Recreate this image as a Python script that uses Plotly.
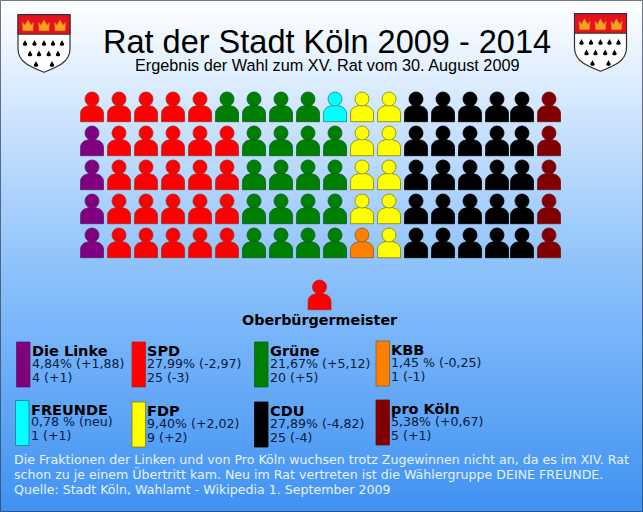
import plotly.graph_objects as go

# ---- data ----
parties = ["Die Linke", "SPD", "Grüne", "KBB", "FREUNDE", "FDP", "CDU", "pro Köln"]
results = ["4,84% (+1,88)", "27,99% (-2,97)", "21,67% (+5,12)", "1,45 % (-0,25)",
           "0,78 % (neu)", "9,40% (+2,02)", "27,89% (-4,82)", "5,38% (+0,67)"]
seats = ["4 (+1)", "25 (-3)", "20 (+5)", "1 (-1)", "1 (+1)", "9 (+2)", "25 (-4)", "5 (+1)"]
colors = {"Die Linke": "#800080", "SPD": "#ff0000", "Grüne": "#008000", "KBB": "#ff8000",
          "FREUNDE": "#00ffff", "FDP": "#ffff00", "CDU": "#000000", "pro Köln": "#800000"}
edges = {"Die Linke": "#5a1a6a", "SPD": "#a82a20", "Grüne": "#0a5a20", "KBB": "#806030",
         "FREUNDE": "#208080", "FDP": "#808000", "CDU": "#000000", "pro Köln": "#701010"}
L, S, G, K, F, D, C, P = parties
seat_rows = [
    [S, S, S, S, S, G, G, G, G, F, D, D, C, C, C, C, C, P],
    [L, S, S, S, S, S, G, G, G, G, D, D, C, C, C, C, C, P],
    [L, S, S, S, S, S, G, G, G, G, D, D, C, C, C, C, C, P],
    [L, S, S, S, S, S, G, G, G, G, D, D, C, C, C, C, C, P],
    [L, S, S, S, S, S, G, G, G, G, K, D, C, C, C, C, C, P],
]
column_x = [92, 119, 146, 173, 200, 227, 254, 281, 308, 335, 362, 389, 416, 443, 470, 497, 522, 549]
row_y = [99, 133, 167, 201, 235]
mayor_party = S
title = "Rat der Stadt Köln 2009 - 2014"
subtitle = "Ergebnis der Wahl zum XV. Rat vom 30. August 2009"
mayor_label = "Oberbürgermeister"
note_lines = [
    "Die Fraktionen der Linken und von Pro Köln wuchsen trotz Zugewinnen nicht an, da es im XIV. Rat",
    "schon zu je einem Übertritt kam. Neu im Rat vertreten ist die Wählergruppe DEINE FREUNDE.",
    "Quelle: Stadt Köln, Wahlamt - Wikipedia 1. September 2009",
]

# ---- layout helpers ----
W, H = 643, 512
legend_boxes = [(16.5, 342), (132, 342), (254.5, 342), (376, 341),
                (15.5, 400.5), (132, 402), (254.5, 402), (376, 400)]
fig = go.Figure()

# background gradient
fig.add_trace(go.Heatmap(
    x=[0, W], y=[0, H], z=[[0, 0], [1, 1]], zsmooth="best", showscale=False, hoverinfo="skip",
    colorscale=[[0, "#ffffff"], [0.53, "#8cc1fb"], [1, "#3f92f2"]], zmin=0, zmax=1))

def bez(p0, p1, p2, p3, n=8):
    out = []
    for i in range(n + 1):
        t = i / n
        a, b, c, d = (1 - t) ** 3, 3 * t * (1 - t) ** 2, 3 * t * t * (1 - t), t ** 3
        out.append((a * p0[0] + b * p1[0] + c * p2[0] + d * p3[0],
                    a * p0[1] + b * p1[1] + c * p2[1] + d * p3[1]))
    return out

body_tpl = ([(-11.5, 22.7), (-11.5, 14.5)]
            + bez((-11.5, 14.5), (-11.5, 9.5), (-7, 7), (-3, 6.5))
            + bez((3, 6.5), (7, 7), (11.5, 9.5), (11.5, 14.5))
            + [(11.5, 22.7), (-11.5, 22.7)])

pos = {p: [] for p in parties}
for r, row in enumerate(seat_rows):
    for c, party in enumerate(row):
        pos[party].append((column_x[c], row_y[r]))
pos[mayor_party].append((319.5, 287))

for p in parties:
    xs, ys = [], []
    for cx, cy in pos[p]:
        for dx, dy in body_tpl:
            xs.append(cx + dx)
            ys.append(cy + dy)
        xs.append(None)
        ys.append(None)
    fig.add_trace(go.Scatter(x=xs, y=ys, mode="lines", fill="toself", fillcolor=colors[p],
                             line=dict(color=edges[p], width=0.8), hoverinfo="skip", showlegend=False))
    fig.add_trace(go.Scatter(x=[q[0] for q in pos[p]], y=[q[1] for q in pos[p]], mode="markers",
                             marker=dict(size=14, color=colors[p], line=dict(color=edges[p], width=0.8)),
                             hoverinfo="skip", showlegend=False))

# coats of arms
def shield(ox, oy):
    sh = dict(xref="x", yref="y", layer="above")
    outline = (f"M {ox} {oy} L {ox+52} {oy} L {ox+52} {oy+34} "
               f"C {ox+52} {oy+48} {ox+38} {oy+53} {ox+26} {oy+57.5} "
               f"C {ox+14} {oy+53} {ox} {oy+48} {ox} {oy+34} Z")
    fig.add_shape(type="path", path=outline, fillcolor="#ffffff",
                  line=dict(color="#303030", width=1.2), **sh)
    fig.add_shape(type="rect", x0=ox, x1=ox + 52, y0=oy, y1=oy + 19.5, fillcolor="#e8101a",
                  line=dict(color="#303030", width=1), **sh)
    for dx in (10, 26, 42):
        cx, t = ox + dx, oy + 5
        crown = (f"M {cx-5.5} {t+2.5} L {cx-3} {t+5.5} L {cx} {t} L {cx+3} {t+5.5} L {cx+5.5} {t+2.5} "
                 f"L {cx+5} {t+11} L {cx-5} {t+11} Z")
        fig.add_shape(type="path", path=crown, fillcolor="#f7a11c",
                      line=dict(color="#c98a20", width=0.5), **sh)
    dx_ = [7, 16.5, 26, 35, 44, 12, 21, 30.7, 40, 18, 34]
    dy_ = [28.5] * 5 + [39] * 4 + [49.5] * 2
    for a, b in zip(dx_, dy_):
        x, y = ox + a, oy + b
        drop = (f"M {x} {y-3.2} C {x+0.6} {y-1.2} {x+2.2} {y-0.2} {x+2.2} {y+1.2} "
                f"C {x+2.2} {y+3} {x-2.2} {y+3} {x-2.2} {y+1.2} C {x-2.2} {y-0.2} {x-0.6} {y-1.2} {x} {y-3.2} Z")
        fig.add_shape(type="path", path=drop, fillcolor="#000000", line=dict(width=0), **sh)

shield(18, 14.7)
shield(574.5, 13.7)

# legend colour blocks
for p, (x0, y0) in zip(parties, legend_boxes):
    fig.add_shape(type="rect", xref="x", yref="y", x0=x0, x1=x0 + 13.5, y0=y0, y1=y0 + 45,
                  fillcolor=colors[p], line=dict(color=edges[p], width=0.8))

# text
def txt(x, y, s, size, color="#000000", family="DejaVu Sans", anchor="left", bold=False):
    fig.add_annotation(x=x, y=y, xref="x", yref="y", text=f"<b>{s}</b>" if bold else s, showarrow=False,
                       xanchor=anchor, yanchor="middle", font=dict(size=size, color=color, family=family),
                       align=anchor, borderpad=0, borderwidth=0)

txt(327, 42, title, 32.5, family="Liberation Sans", anchor="center")
txt(327, 65, subtitle, 16.25, family="Liberation Sans", anchor="center")
txt(320, 320, mayor_label, 14.3, anchor="center", bold=True)
for p, r, s, (x0, y0) in zip(parties, results, seats, legend_boxes):
    x = x0 + 15
    txt(x, y0 + 9, p, 14.5, bold=True)
    txt(x, y0 + 21, r, 12.6, color="#0a1a3a")
    txt(x, y0 + 35, s, 12.6, color="#0a1a3a")
for i, line in zip((459, 474, 489), note_lines):
    txt(13.5, i, line, 12.6, color="#e8f1ff")

# frame
fig.add_shape(type="rect", xref="x", yref="y", x0=0.5, x1=W - 0.5, y0=0.5, y1=H - 0.5,
              fillcolor="rgba(0,0,0,0)", line=dict(color="rgba(50,60,80,0.7)", width=1))

fig.update_layout(
    width=W, height=H, margin=dict(l=0, r=0, t=0, b=0), showlegend=False,
    paper_bgcolor="#ffffff", plot_bgcolor="#ffffff",
    xaxis=dict(range=[0, W], visible=False, fixedrange=True),
    yaxis=dict(range=[H, 0], visible=False, fixedrange=True),
)
fig.write_html("out.html", config={"displayModeBar": False},
               post_script='document.body.style.margin="0";document.body.style.overflow="hidden";')
